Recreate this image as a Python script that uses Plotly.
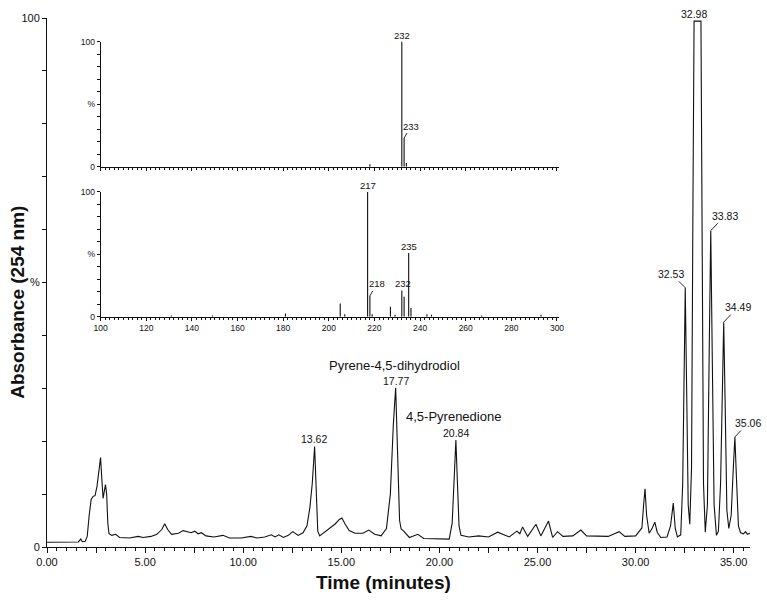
import plotly.graph_objects as go

# ---------------- data ----------------
# Main chromatogram (UV 254 nm), time in minutes, absorbance in %
time_min = [
    0.0, 0.8, 1.6, 1.72, 1.8, 1.95, 2.05, 2.15, 2.25, 2.36,
    2.45, 2.55, 2.63, 2.73, 2.8, 2.86, 2.92, 2.98, 3.04, 3.1,
    3.16, 3.3, 3.5, 3.7, 4.2, 4.65, 4.9, 5.3, 5.6, 5.85,
    6.0, 6.15, 6.35, 6.7, 6.94, 7.2, 7.35, 7.53, 7.7, 7.87,
    8.1, 8.5, 8.97, 9.3, 9.9, 10.4, 10.7, 11.1, 11.43, 11.62,
    11.82, 12.05, 12.3, 12.53, 12.8, 13.05, 13.25, 13.4, 13.52, 13.64,
    13.72, 13.8, 13.9, 14.3, 14.7, 14.9, 15.03, 15.2, 15.4, 15.7,
    16.1, 16.4, 16.7, 17.03, 17.3, 17.5, 17.65, 17.77, 17.87, 17.97,
    18.05, 18.18, 18.47, 18.9, 19.2, 19.8, 20.5, 20.65, 20.75, 20.84,
    20.92, 21.0, 21.1, 21.5, 22.0, 22.5, 22.97, 23.56, 23.95, 24.1,
    24.24, 24.5, 24.92, 25.17, 25.56, 25.77, 26.02, 26.3, 26.8, 27.21,
    27.5, 28.0, 28.6, 29.16, 29.45, 30.0, 30.18, 30.32, 30.42, 30.48,
    30.56, 30.69, 30.85, 30.98, 31.1, 31.28, 31.6, 31.78, 31.92, 32.02,
    32.13, 32.3, 32.4, 32.47, 32.53, 32.6, 32.68, 32.76, 32.85, 32.93,
    32.98, 33.33, 33.38, 33.46, 33.55, 33.66, 33.76, 33.83, 33.91, 34.0,
    34.12, 34.22, 34.33, 34.43, 34.49, 34.56, 34.65, 34.75, 34.87, 34.98,
    35.06, 35.14, 35.24, 35.35, 35.5, 35.6, 35.7, 35.83,
]
absorbance = [
    0.9, 0.9, 0.95, 1.5, 1.0, 1.1, 2.0, 6.0, 9.0, 9.6,
    9.7, 11.5, 14.5, 16.9, 12.5, 9.2, 10.5, 11.8, 10.0, 4.5,
    2.5, 2.2, 2.4, 1.8, 1.7, 2.0, 1.8, 2.0, 2.4, 3.3,
    4.4, 3.3, 2.4, 2.6, 3.1, 2.8, 2.7, 3.0, 2.5, 2.7,
    2.1, 1.9, 2.2, 1.7, 1.7, 2.0, 1.7, 1.9, 2.3, 1.9,
    2.3, 1.8, 2.2, 2.9, 2.2, 2.7, 4.0, 7.5, 12.0, 19.0,
    10.0, 3.0, 2.1, 3.2, 4.4, 5.2, 5.5, 4.3, 3.1, 2.6,
    2.6, 3.2, 2.4, 2.1, 3.5, 10.0, 23.0, 30.1, 18.0, 5.0,
    3.4, 3.0, 1.8, 2.4, 1.6, 1.5, 1.5, 4.5, 13.0, 20.2,
    12.0, 4.0, 2.2, 1.9, 2.1, 1.9, 2.8, 1.9, 3.0, 2.5,
    3.8, 2.0, 4.3, 2.1, 4.9, 1.8, 2.9, 2.0, 2.1, 3.2,
    2.1, 2.0, 2.0, 2.9, 2.0, 2.1, 3.0, 3.6, 8.5, 11.0,
    6.0, 2.6, 3.6, 4.7, 2.8, 1.8, 1.9, 4.0, 8.3, 3.5,
    1.9, 2.3, 12.0, 35.0, 49.0, 30.0, 8.0, 4.3, 15.0, 70.0,
    99.4, 99.4, 70.0, 12.0, 2.8, 8.0, 40.0, 59.8, 35.0, 8.0,
    2.2, 3.0, 12.0, 32.0, 42.5, 28.0, 7.0, 3.5, 6.0, 15.0,
    20.8, 13.0, 4.0, 2.7, 2.5, 2.9, 2.4, 2.6,
]

# Labelled chromatogram peaks
peak_times = [13.62, 17.77, 20.84, 32.98, 32.53, 33.83, 34.49, 35.06]
peak_heights = [19.0, 30.1, 20.2, 99.4, 49.0, 59.8, 42.5, 20.8]

# Compound names
compound_names = ["Pyrene-4,5-dihydrodiol", "4,5-Pyrenedione"]

# Mass spectrum insets (m/z, relative intensity %)
ms_top_mz = [218, 232, 233, 234]
ms_top_int = [2, 100, 23, 3]
ms_bottom_mz = [131, 149, 181, 205, 207, 217, 218, 219, 227, 229,
                232, 233, 235, 236, 243, 245, 267, 293]
ms_bottom_int = [1, 1, 2.6, 10.6, 2, 100, 16.7, 2, 8, 1.5,
                 21, 16, 51, 7, 2, 1.5, 1, 1.5]

main_xticks = [i * 2.5 for i in range(15)]
main_xticktext = [f"{v:.2f}" if v % 5 == 0 else "" for v in main_xticks]
pct_ticks = list(range(0, 101, 10))
pct_text = ["0", "", "", "", "", "%", "", "", "", "", "100"]
mz_ticks = list(range(100, 301, 20))

FONT = "Liberation Sans, Arial, Helvetica, sans-serif"
BLACK = "#111111"


def sticks(mz, inten):
    xs, ys = [], []
    for m, v in zip(mz, inten):
        xs += [m, m, None]
        ys += [0, v, None]
    return xs, ys


fig = go.Figure()
fig.add_trace(go.Scatter(x=time_min, y=absorbance, mode="lines",
                         line=dict(color=BLACK, width=1.1), xaxis="x", yaxis="y",
                         hoverinfo="skip", showlegend=False))
sx, sy = sticks(ms_top_mz, ms_top_int)
fig.add_trace(go.Scatter(x=sx, y=sy, mode="lines", line=dict(color=BLACK, width=1.1),
                         xaxis="x2", yaxis="y2", showlegend=False, hoverinfo="skip"))
sx, sy = sticks(ms_bottom_mz, ms_bottom_int)
fig.add_trace(go.Scatter(x=sx, y=sy, mode="lines", line=dict(color=BLACK, width=1.1),
                         xaxis="x3", yaxis="y3", showlegend=False, hoverinfo="skip"))

ann = []
# plain peak labels (above the apex)
for t, h in zip(peak_times[:4], peak_heights[:4]):
    ann.append(dict(x=t, y=h, xref="x", yref="y", text=f"{t:.2f}", showarrow=False,
                    yanchor="bottom", yshift=-1, font=dict(size=10.5, family=FONT, color=BLACK)))
# labels with leader lines
offsets = [(-14, -14), (14, -15), (14, -15), (13, -14)]
for (t, h), (ax, ay) in zip(zip(peak_times[4:], peak_heights[4:]), offsets):
    ann.append(dict(x=t, y=h, xref="x", yref="y", text=f"{t:.2f}", showarrow=True,
                    arrowhead=0, arrowwidth=0.9, arrowcolor=BLACK, ax=ax, ay=ay,
                    font=dict(size=10.5, family=FONT, color=BLACK)))
ann.append(dict(x=17.71, y=34.3, xref="x", yref="y", text=compound_names[0], showarrow=False,
                xanchor="center", yanchor="middle", font=dict(size=13, family=FONT, color=BLACK)))
ann.append(dict(x=20.71, y=24.6, xref="x", yref="y", text=compound_names[1], showarrow=False,
                xanchor="center", yanchor="middle", font=dict(size=13, family=FONT, color=BLACK)))

# inset labels
top_lookup = dict(zip(ms_top_mz, ms_top_int))
bot_lookup = dict(zip(ms_bottom_mz, ms_bottom_int))
ann.append(dict(x=232, y=top_lookup[232], xref="x2", yref="y2", text="232", showarrow=False,
                yanchor="bottom", yshift=-1, font=dict(size=9.5, family=FONT, color=BLACK)))
ann.append(dict(x=233, y=top_lookup[233], xref="x2", yref="y2", text="233", showarrow=True,
                arrowhead=0, arrowwidth=0.9, arrowcolor=BLACK, ax=7, ay=-12,
                font=dict(size=9.5, family=FONT, color=BLACK)))
ann.append(dict(x=217, y=bot_lookup[217], xref="x3", yref="y3", text="217", showarrow=False,
                yanchor="bottom", yshift=-1, font=dict(size=9.5, family=FONT, color=BLACK)))
ann.append(dict(x=218, y=bot_lookup[218], xref="x3", yref="y3", text="218", showarrow=True,
                arrowhead=0, arrowwidth=0.9, arrowcolor=BLACK, ax=7, ay=-12,
                font=dict(size=9.5, family=FONT, color=BLACK)))
ann.append(dict(x=232.6, y=bot_lookup[232], xref="x3", yref="y3", text="232", showarrow=False,
                yanchor="bottom", yshift=-1, font=dict(size=9.5, family=FONT, color=BLACK)))
ann.append(dict(x=235, y=bot_lookup[235], xref="x3", yref="y3", text="235", showarrow=False,
                yanchor="bottom", yshift=-1, font=dict(size=9.5, family=FONT, color=BLACK)))
ann.append(dict(x=309, y=0, xref="x3", yref="y3", text="m/z", showarrow=False,
                xanchor="center", yanchor="middle", yshift=-9,
                font=dict(size=8.5, family=FONT, color=BLACK)))

# axis titles
ann.append(dict(x=0.479, y=-0.068, xref="paper", yref="paper", text="<b>Time (minutes)</b>",
                xanchor="center", yanchor="middle",
                showarrow=False, font=dict(size=19, family=FONT, color=BLACK)))
ann.append(dict(x=-0.043, y=0.463, xref="paper", yref="paper", text="<b>Absorbance (254 nm)</b>",
                xanchor="center", yanchor="middle",
                showarrow=False, textangle=-90, font=dict(size=19, family=FONT, color=BLACK)))

axis_common = dict(showline=True, linecolor=BLACK, linewidth=1, showgrid=False, zeroline=False,
                   ticks="outside", tickcolor=BLACK, tickwidth=1)

inset_xdom = [0.0763, 0.7287]

fig.update_layout(
    width=767, height=600,
    margin=dict(l=47, r=16, t=14, b=53),
    paper_bgcolor="white", plot_bgcolor="white",
    font=dict(family=FONT, color=BLACK),
    showlegend=False,
    annotations=ann,
    xaxis=dict(domain=[0, 1], range=[0, 35.83], anchor="y", tickvals=main_xticks,
               ticktext=main_xticktext, ticklen=5, tickfont=dict(size=11),
               minor=dict(dtick=0.5, tick0=0, ticklen=2.5, ticks="outside", tickcolor=BLACK,
                          showgrid=False),
               **axis_common),
    yaxis=dict(domain=[0, 1], range=[0, 100], anchor="x", tickvals=pct_ticks, ticktext=pct_text,
               ticklen=4, tickfont=dict(size=11), **axis_common),
    xaxis2=dict(domain=inset_xdom, range=[100, 301], anchor="y2", tickvals=mz_ticks,
                showticklabels=False, ticklen=3.5,
                minor=dict(dtick=2, tick0=100, ticklen=2, ticks="outside", tickcolor=BLACK,
                           showgrid=False),
                **axis_common),
    yaxis2=dict(domain=[0.7186, 0.9555], range=[0, 100], anchor="x2", tickvals=pct_ticks,
                ticktext=pct_text, ticklen=3, tickfont=dict(size=8.5), **axis_common),
    xaxis3=dict(domain=inset_xdom, range=[100, 301], anchor="y3", tickvals=mz_ticks,
                ticklen=3.5, tickfont=dict(size=8.5),
                minor=dict(dtick=2, tick0=100, ticklen=2, ticks="outside", tickcolor=BLACK,
                           showgrid=False),
                **axis_common),
    yaxis3=dict(domain=[0.4353, 0.6717], range=[0, 100], anchor="x3", tickvals=pct_ticks,
                ticktext=pct_text, ticklen=3, tickfont=dict(size=8.5), **axis_common),
)

fig.write_html("out.html", config={"displayModeBar": False, "staticPlot": True},
               post_script="document.body.style.margin='0px';")
